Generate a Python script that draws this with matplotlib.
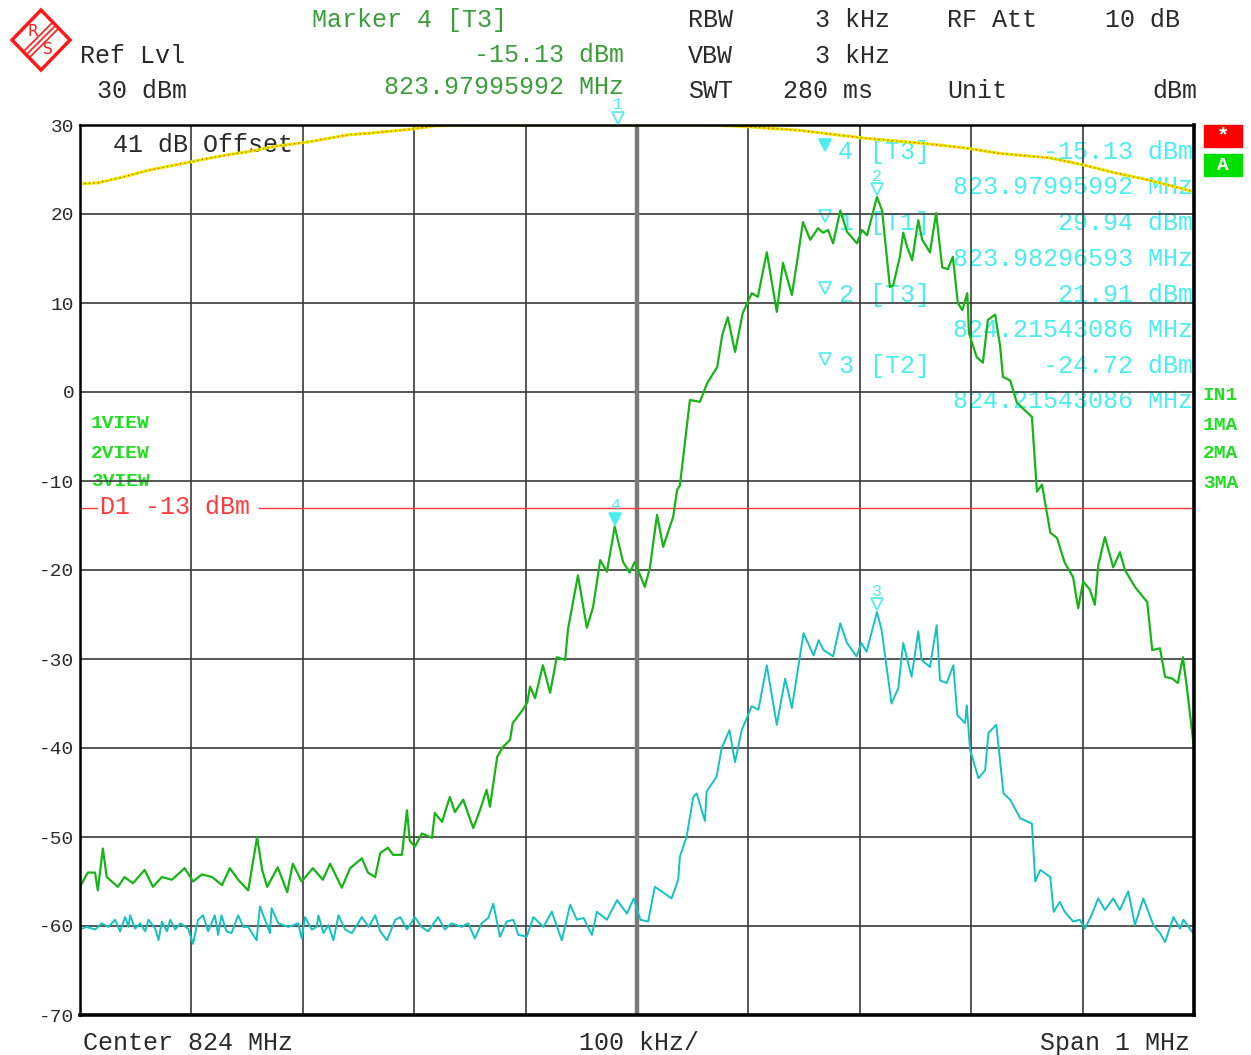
import numpy as np
import matplotlib.pyplot as plt
from matplotlib import transforms
from matplotlib.patches import Rectangle, Polygon

plt.rcParams['font.family'] = ['Liberation Mono', 'DejaVu Sans Mono']

W, H = 1251, 1055

# frequency offset from span start 823.5 MHz (kHz) and level (dBm)
# trace 1 (yellow, max hold)
t1_khz = [0, 16, 40, 61, 85, 109, 130, 151, 175, 205, 241, 262, 295, 319, 355,
          565, 600, 646, 679, 706, 760, 796, 826, 871, 901, 930, 960, 1000]
t1_dbm = [23.4, 23.5, 24.2, 24.9, 25.5, 26.1, 26.6, 27.0, 27.6, 28.1, 28.9, 29.1,
          29.5, 29.9, 30.0, 30.0, 29.8, 29.4, 28.9, 28.5, 27.9, 27.4, 26.8, 26.3,
          25.5, 24.6, 23.8, 22.5]

# trace 3 (green)
t3_khz = [0, 7, 13.5, 16, 20.5, 24, 34, 40, 47.5, 58,
          65.5, 73.5, 82.5, 94, 101.5, 109.5, 118.5, 127.5, 134.5, 142,
          151, 159, 163.5, 168, 177.5, 186, 191, 199, 209, 218,
          224.5, 235, 242.5, 253, 258.5, 265, 269.5, 276.5, 281, 289,
          293.5, 296, 300.5, 307, 316, 318.5, 325, 332, 336.5, 344,
          353, 359, 365, 368, 374.5, 379.5, 386, 388.5, 397.5, 401.5,
          404, 408.5, 415.5, 422, 428, 435.5, 438, 447, 455, 460.5,
          467, 473, 480, 487.5, 493.5, 498, 507, 511.5, 518, 523.5,
          532.5, 536, 538.5, 547.5, 556.5, 563, 572, 576.5, 581.5, 588,
          595, 603, 608.5, 616.5, 625.5, 631, 639, 643.5, 649, 655.5,
          662.5, 667, 671.5, 676, 682.5, 688.5, 697.5, 702, 706.5, 715.4,
          720, 727, 730, 736, 739, 742.5, 747, 752.5, 756, 763,
          768.5, 774, 779, 783.5, 788, 792, 796.5, 798, 805, 810.5,
          815, 821.5, 826, 828.5, 835, 841, 854.5, 859, 863.5, 871,
          877, 884, 891.5, 896, 900.5, 906.5, 911, 914, 920, 927.5,
          933.5, 938, 947, 958, 962.5, 969.5, 974, 980.5, 985.5, 990,
          993.5, 1000]
t3_dbm = [-55.6, -54.0, -54.0, -56.0, -51.3, -54.5, -55.6, -54.5, -55.2, -53.7,
          -55.6, -54.5, -54.8, -53.5, -55.0, -54.2, -54.5, -55.4, -53.5, -54.8,
          -56.0, -50.0, -53.7, -55.6, -53.4, -56.2, -53.0, -55.0, -53.5, -54.8,
          -53.0, -55.7, -53.5, -52.4, -54.0, -54.5, -51.8, -51.2, -52.0, -52.0,
          -47.0, -50.4, -51.1, -49.6, -50.1, -47.3, -48.3, -45.5, -47.2, -45.8,
          -49.0, -47.0, -44.7, -46.6, -41.0, -39.9, -39.1, -37.2, -35.7, -34.9,
          -33.1, -34.4, -30.7, -33.8, -29.8, -30.1, -26.7, -20.6, -26.5, -24.2,
          -18.9, -20.2, -15.13, -19.1, -20.3, -19.1, -21.9, -19.8, -13.8, -17.4,
          -14.0, -11.0, -10.5, -0.9, -1.1, 1.0, 2.8, 6.4, 8.4, 4.5,
          8.9, 11.1, 10.7, 15.7, 9.0, 14.5, 10.9, 14.5, 19.1, 17.1,
          18.4, 17.9, 18.2, 16.7, 20.4, 18.0, 16.7, 18.2, 17.6, 21.91,
          20.4, 11.8, 12.0, 15.2, 17.9, 16.3, 14.8, 19.3, 17.1, 15.7,
          20.1, 14.0, 13.8, 15.2, 10.0, 9.2, 11.1, 6.6, 3.9, 3.3,
          8.1, 8.7, 5.1, 1.7, 1.3, -1.2, -2.8, -11.2, -10.4, -15.8,
          -16.4, -19.2, -20.8, -24.3, -21.3, -22.2, -23.9, -19.5, -16.3, -19.7,
          -18.0, -20.0, -21.9, -23.6, -29.0, -28.8, -32.0, -32.2, -32.7, -29.8,
          -33.1, -40.0]

# trace 2 (cyan)
t2_khz = [0, 6, 13.5, 19.5, 25.5, 31.5, 36, 40.5, 43.5, 45,
          49.5, 54, 58.5, 61.5, 67.5, 70.5, 73.5, 78, 81, 85.5,
          90, 97, 101.5, 106, 110.5, 115, 121, 124, 127, 131.5,
          136, 142, 146.5, 151, 158.5, 161.5, 166, 170.5, 172, 178,
          187, 196, 199, 202, 208, 212.5, 214, 218.5, 223, 227.5,
          232, 238, 244, 253, 259, 265, 269.5, 275.5, 283, 287.5,
          293.5, 300.5, 306.5, 312.5, 321.5, 327.5, 333.5, 342.5, 348.5, 354.5,
          360.5, 366.5, 371, 377, 383, 389, 393.5, 401, 407, 416,
          423.5, 432.5, 440, 446, 452, 459.5, 464, 473, 482, 491,
          497, 503, 510, 516, 522, 531, 537, 538.5, 544.5, 550.5,
          553.5, 561, 562.5, 571.5, 576, 583, 588, 594, 603, 609,
          616.5, 625.5, 633, 639, 649.5, 658.5, 663, 667.5, 676, 682.5,
          688.5, 697, 701.5, 706, 715.4, 719.5, 728.5, 734.5, 739, 746.5,
          752.5, 755.5, 763, 769, 772, 778, 784, 787.5, 794.5, 796,
          799, 806.5, 812.5, 815.5, 822.5, 829, 835, 844, 854.5, 857.5,
          862, 871, 874, 879.5, 884, 891.5, 897.5, 902, 908, 914,
          920, 927.5, 933.5, 941, 947, 954.5, 963.5, 969.5, 974, 981.5,
          987.5, 990.5, 998, 1000]
t2_dbm = [-60.4, -60.1, -60.4, -59.7, -60.1, -59.3, -60.6, -59.0, -60.1, -58.8,
          -60.3, -59.7, -60.6, -59.3, -60.3, -61.6, -59.5, -60.6, -59.3, -60.4,
          -59.7, -60.3, -62.0, -59.3, -58.8, -60.6, -58.8, -61.0, -58.8, -60.6,
          -60.8, -58.8, -60.1, -60.1, -61.6, -57.8, -59.3, -60.8, -58.0, -59.7,
          -60.1, -59.7, -61.4, -59.0, -60.4, -60.1, -58.8, -60.8, -59.9, -61.6,
          -58.8, -60.4, -60.8, -59.0, -60.1, -58.8, -60.6, -61.6, -59.3, -59.0,
          -60.4, -59.0, -60.1, -60.6, -59.0, -60.4, -59.7, -60.1, -59.7, -61.4,
          -59.7, -59.1, -57.5, -61.2, -59.5, -59.3, -61.0, -61.2, -59.0, -60.1,
          -58.4, -61.6, -57.6, -59.3, -59.1, -61.0, -58.4, -59.3, -57.1, -58.6,
          -56.9, -59.3, -59.5, -55.6, -56.1, -56.9, -54.8, -52.2, -50.0, -45.5,
          -45.1, -48.2, -44.9, -43.2, -40.0, -38.0, -41.6, -38.0, -35.3, -35.7,
          -30.7, -37.4, -32.2, -35.5, -27.1, -29.6, -27.9, -29.0, -29.7, -26.0,
          -28.2, -29.7, -28.2, -29.2, -24.72, -26.7, -35.0, -33.3, -28.2, -32.0,
          -26.9, -30.1, -30.9, -26.2, -32.4, -32.7, -30.7, -36.3, -37.2, -35.2,
          -40.2, -43.4, -42.5, -38.3, -37.4, -45.1, -45.8, -47.9, -48.5, -55.0,
          -53.7, -54.5, -58.4, -57.3, -58.4, -59.5, -59.3, -60.3, -58.8, -56.9,
          -58.2, -56.9, -58.2, -56.1, -59.9, -56.9, -59.9, -60.8, -61.8, -59.0,
          -60.3, -59.3, -60.6, -60.8]

# markers
mk_num = ['1', '2', '3', '4']
mk_trace = ['T1', 'T3', 'T2', 'T3']
mk_mhz = [823.98296593, 824.21543086, 824.21543086, 823.97995992]
mk_dbm = [29.94, 21.91, -24.72, -15.13]
mk_filled = [False, False, False, True]
panel_order = [3, 0, 1, 2]   # marker 4 first, then 1, 2, 3

display_line = -13
start_mhz = 823.5

# colours
c_green = '#16b416'
c_cyan = '#14c2c2'
c_ctxt = '#4aeeee'
c_head = '#3a9e3a'
c_view = '#22dd22'
c_red = '#ff3c3c'
c_txt = '#2a2a2a'

fig = plt.figure(figsize=(W / 100, H / 100), dpi=100)

# overlay in pixel coordinates for the surrounding text
ov = fig.add_axes([0, 0, 1, 1], zorder=-1)
ov.set_xlim(0, W)
ov.set_ylim(H, 0)
ov.axis('off')

ax = fig.add_axes([80 / W, 1 - 1015 / H, 1114 / W, 890 / H])
ax.set_xlim(0, 1000)
ax.set_ylim(-70, 30)
ax.set_xticks(np.arange(0, 1001, 100))
ax.set_xticklabels([])
ax.set_yticks(np.arange(-70, 31, 10))
ax.set_yticklabels([str(v) for v in range(-70, 31, 10)], fontsize=14, color=c_txt)
ax.tick_params(length=0, pad=4)
ax.set_axisbelow(True)
ax.grid(True, color='#3a3a3a', lw=1.2)
ax.axvline(500, color='#7a7a7a', lw=3.2, zorder=0.55)
for s in ['bottom', 'right']:
    ax.spines[s].set_linewidth(2.6)
for s in ['top', 'left']:
    ax.spines[s].set_linewidth(1.8)

# traces
ax.plot(t1_khz, t1_dbm, color='#e8e800', lw=2.2, zorder=2)
ax.plot(t1_khz, t1_dbm, color='#e03020', lw=0.8, ls=(0, (1, 3)), zorder=2.1)
ax.plot(t2_khz, t2_dbm, color=c_cyan, lw=1.4, zorder=2.2)
ax.plot(t3_khz, t3_dbm, color=c_green, lw=1.6, zorder=2.3)

# display line D1 (broken around its label)
ax.plot([0, 15], [display_line] * 2, color=c_red, lw=1.0, zorder=2)
ax.plot([161, 1000], [display_line] * 2, color=c_red, lw=1.0, zorder=2)
ax.text(100, 507, f'D1 {display_line} dBm', transform=ov.transData, color=c_red,
        fontsize=18, va='center', ha='left', zorder=0.4)

# marker symbols on traces
tr_sym = transforms.offset_copy(ax.transData, fig=fig, x=0, y=8, units='dots')
tr_num = transforms.offset_copy(ax.transData, fig=fig, x=0, y=21, units='dots')
for n, mhz, lvl, fill in zip(mk_num, mk_mhz, mk_dbm, mk_filled):
    k = (mhz - start_mhz) * 1000
    ax.plot([k], [lvl], marker='v', ms=8, mew=1.2, color=c_ctxt,
            mfc=c_ctxt if fill else 'none', transform=tr_sym, clip_on=False, zorder=5)
    ax.text(k, lvl, n, transform=tr_num, color=c_ctxt, fontsize=12,
            ha='center', va='center', clip_on=False, zorder=5)

# marker table inside the grid
row_y = 152
for i in panel_order:
    ax.plot([825], [row_y - 7], marker='v', ms=9, mew=1.2, color=c_ctxt,
            mfc=c_ctxt if mk_filled[i] else 'none', transform=ov.transData,
            clip_on=False, zorder=0.4)
    ax.text(838, row_y, mk_num[i], transform=ov.transData, color=c_ctxt,
            fontsize=18, va='center', zorder=0.4)
    ax.text(870, row_y, f'[{mk_trace[i]}]', transform=ov.transData, color=c_ctxt,
            fontsize=18, va='center', zorder=0.4)
    ax.text(1193, row_y, f'{mk_dbm[i]:.2f} dBm', transform=ov.transData,
            color=c_ctxt, fontsize=18, va='center', ha='right', zorder=0.4)
    ax.text(1193, row_y + 35.5, f'{mk_mhz[i]:.8f} MHz', transform=ov.transData,
            color=c_ctxt, fontsize=18, va='center', ha='right', zorder=0.4)
    row_y += 71.3

ax.text(113, 145, '41 dB Offset', transform=ov.transData, color=c_txt,
        fontsize=18, va='center', zorder=0.4)
for j, lab in enumerate(['1VIEW', '2VIEW', '3VIEW']):
    ax.text(91, 424 + 29 * j, lab, transform=ov.transData, color=c_view,
            fontsize=14, fontweight='bold', va='center', zorder=0.4)

# header
hk = dict(fontsize=18, va='center')
ov.text(312, 20, f'Marker {mk_num[3]} [{mk_trace[3]}]', color=c_head, **hk)
ov.text(80, 56, 'Ref Lvl', color=c_txt, **hk)
ov.text(624, 55, f'{mk_dbm[3]:.2f} dBm', color=c_head, ha='right', **hk)
ov.text(97, 91, '30 dBm', color=c_txt, **hk)
ov.text(624, 87, f'{mk_mhz[3]:.8f} MHz', color=c_head, ha='right', **hk)
ov.text(688, 20, 'RBW', color=c_txt, **hk)
ov.text(890, 20, '3 kHz', color=c_txt, ha='right', **hk)
ov.text(947, 20, 'RF Att', color=c_txt, **hk)
ov.text(1180, 20, '10 dB', color=c_txt, ha='right', **hk)
ov.text(688, 56, 'VBW', color=c_txt, **hk)
ov.text(890, 56, '3 kHz', color=c_txt, ha='right', **hk)
ov.text(688, 91, 'SWT', color=c_txt, **hk)
ov.text(873, 91, '280 ms', color=c_txt, ha='right', **hk)
ov.text(947, 91, 'Unit', color=c_txt, **hk)
ov.text(1197, 91, 'dBm', color=c_txt, ha='right', **hk)

# footer
ov.text(83, 1043, 'Center 824 MHz', color=c_txt, **hk)
ov.text(639, 1043, '100 kHz/', color=c_txt, ha='center', **hk)
ov.text(1190, 1043, 'Span 1 MHz', color=c_txt, ha='right', **hk)

# right side status
ov.add_patch(Rectangle((1204, 125), 38, 22, color='#ff0000'))
ov.text(1223, 136, '*', color='white', fontsize=15, fontweight='bold',
        ha='center', va='center')
ov.add_patch(Rectangle((1204, 154), 38, 22, color='#00e000'))
ov.text(1223, 165, 'A', color='white', fontsize=14, fontweight='bold',
        ha='center', va='center')
for j, lab in enumerate(['IN1', '1MA', '2MA', '3MA']):
    ov.text(1203, 396 + 29 * j, lab, color=c_view, fontsize=14,
            fontweight='bold', va='center')

# R&S logo
ov.add_patch(Polygon([(41, 10), (70, 40), (41, 70), (12, 40)], closed=True,
                     fill=False, ec='#ff1a1a', lw=2.5))
for d in (-3, 0, 3):
    ov.plot([26 + d, 55 + d], [55 + d, 26 + d], color='#ff1a1a', lw=1.2)
ov.text(33, 31, 'R', color='#ff1a1a', fontsize=11, ha='center', va='center',
        family='DejaVu Sans')
ov.text(48, 50, 'S', color='#ff1a1a', fontsize=11, ha='center', va='center',
        family='DejaVu Sans')

fig.savefig('out.png', dpi=100)
